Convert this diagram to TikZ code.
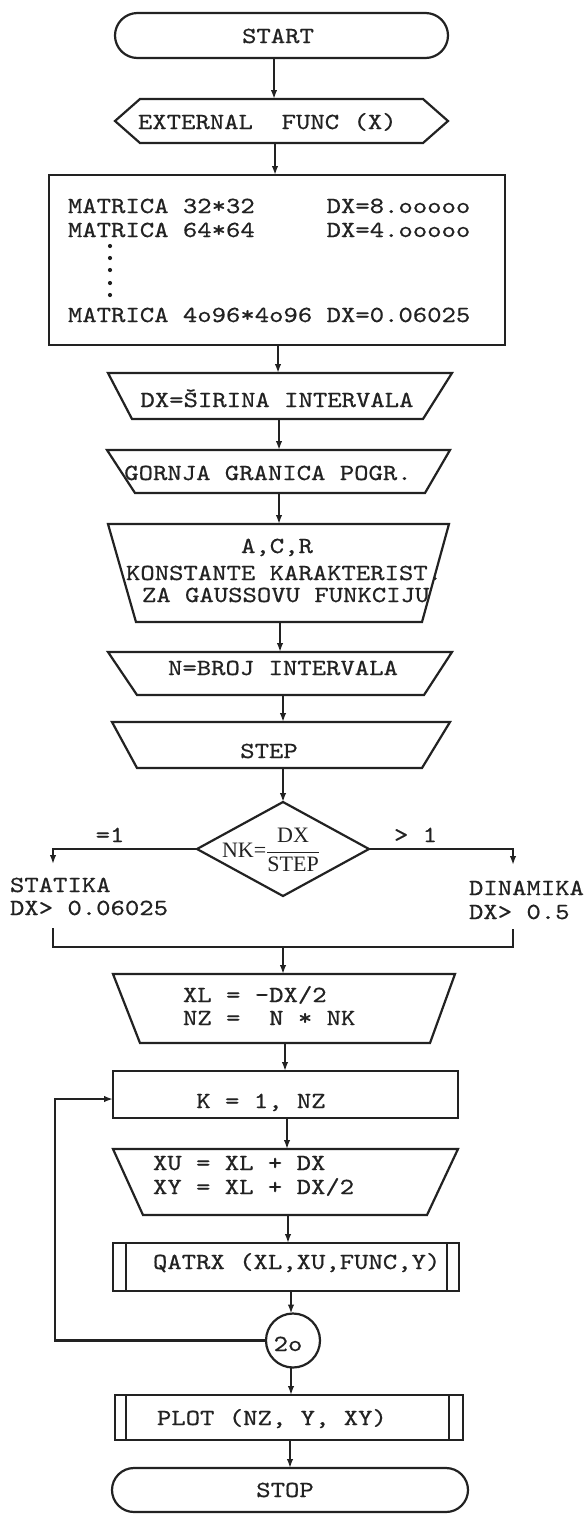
\documentclass[tikz,border=0pt]{standalone}
\usepackage{fontspec}
\setmonofont{lmmono10-regular.otf}[FakeStretch=1.19,FakeBold=0.6]
\newfontfamily\serifT{Liberation Serif}
\usetikzlibrary{shapes.misc,shapes.geometric,arrows.meta,calc}
\definecolor{ink}{HTML}{222222}
\tikzset{
  ln/.style={line width=2.2pt, draw=ink},
  arr/.style={ln, -{Latex[length=9pt,width=6.5pt]}},
  shp/.style={inner sep=0pt, outer sep=0pt, draw=none},
  txt/.style={inner sep=0pt, outer sep=0pt, font=\ttfamily\fontsize{23}{26}\selectfont, text height=14pt, text depth=0pt, text=ink},
}
\newcommand\trapz[3]{\draw[ln] (#1.north west) -- (#1.north east) -- ([xshift=-#3pt]#1.south east) -- ([xshift=#2pt]#1.south west) -- cycle;}
\newcommand\procbox[3]{\draw[ln] (#1.north west) rectangle (#1.south east);
  \draw[ln] ([xshift=#2pt]#1.north west) -- ([xshift=#2pt]#1.south west);
  \draw[ln] ([xshift=-#3pt]#1.north east) -- ([xshift=-#3pt]#1.south east);}
\begin{document}
\begin{tikzpicture}[x=1pt,y=-1pt]
\fill[white] (0,0) rectangle (588,1516);
\useasboundingbox (0,0) rectangle (588,1516);

% ---------- shapes ----------
\node[shp, rounded rectangle, ln, minimum width=333pt, minimum height=45pt] (start) at (281.5,35.5) {};
\node[txt] (tstart) at (278,36) {START};

\node[shp, minimum width=283pt, minimum height=44pt] (ext) at (281.5,121) {};
\draw[ln] (ext.north west) -- (ext.north east) -- ([xshift=25pt]ext.east) -- (ext.south east) -- (ext.south west) -- ([xshift=-25pt]ext.west) -- cycle;
\node[txt, anchor=west] (text) at (138,122) {EXTERNAL\ \ FUNC (X)};

\node[shp, ln, minimum width=456pt, minimum height=170pt] (mat) at (277,260) {};
\node[txt, anchor=west] (m1) at (68,206) {MATRICA 32*32\ \ \ \ \ DX=8.ooooo};
\node[txt, anchor=west] (m2) at (68,230) {MATRICA 64*64\ \ \ \ \ DX=4.ooooo};
\node[txt, anchor=west] (m3) at (68,315) {MATRICA 4o96*4o96 DX=0.06025};
\foreach \yy in {246,258,270,283,295} \fill[ink] (110,\yy) circle (2.1pt);

\node[shp, minimum width=344pt, minimum height=46pt] (dxs) at (280,396) {};
\trapz{dxs}{24}{29}
\node[txt] (tdxs) at (277,400) {DX=ŠIRINA INTERVALA};

\node[shp, minimum width=343pt, minimum height=43pt] (gor) at (278.5,471.5) {};
\trapz{gor}{28}{25}
\node[txt] (tgor) at (268,473) {GORNJA GRANICA POGR.};

\node[shp, minimum width=341pt, minimum height=98pt] (acr) at (278.5,573) {};
\trapz{acr}{28}{27}
\node[txt] (ta1) at (277,546) {A,C,R};
\node[txt, anchor=west] (ta2) at (126,573) {KONSTANTE KARAKTERIST.};
\node[txt, anchor=west] (ta3) at (142,595) {ZA GAUSSOVU FUNKCIJU};

\node[shp, minimum width=344pt, minimum height=43pt] (nbr) at (280,673.5) {};
\trapz{nbr}{29}{28}
\node[txt] (tnbr) at (283,668) {N=BROJ INTERVALA};

\node[shp, minimum width=338pt, minimum height=46pt] (stp) at (281,745) {};
\trapz{stp}{25}{28}
\node[txt] (tstp) at (269,751) {STEP};

\node[shp, diamond, ln, minimum width=172pt, minimum height=94pt] (dia) at (283,849) {};
\node[inner sep=0pt, text=ink] (tdia) at (271,850) {\serifT\fontsize{22}{25}\selectfont NK=$\displaystyle\frac{\mbox{DX}}{\mbox{STEP}}$};

\coordinate (lb) at (53,849);
\coordinate (la) at (53,864);
\coordinate (rb) at (513,849);
\coordinate (ra) at (513,865);
\node[txt] (teq) at (110,835) {=1};
\node[txt, anchor=west] (tgt) at (394,835) {> 1};
\node[txt, anchor=west] (tst1) at (10,885) {STATIKA};
\node[txt, anchor=west] (tst2) at (10,908) {DX> 0.06025};
\node[txt, anchor=west] (tdn1) at (469,888) {DINAMIKA};
\node[txt, anchor=west] (tdn2) at (469,912) {DX> 0.5};

\coordinate (bl1) at (53,928);
\coordinate (bl2) at (53,947);
\coordinate (br2) at (513,947);
\coordinate (br1) at (513,929);
\coordinate (jn) at (283,947);

\node[shp, minimum width=342pt, minimum height=69pt] (xl) at (284,1008.5) {};
\trapz{xl}{27}{25}
\node[txt, anchor=west] (txl1) at (183,995) {XL = -DX/2};
\node[txt, anchor=west] (txl2) at (183,1018) {NZ =\ \ N * NK};

\node[shp, ln, minimum width=345pt, minimum height=47pt] (kk) at (285.5,1094.5) {};
\node[txt] (tkk) at (261,1101) {K = 1, NZ};

\node[shp, minimum width=345pt, minimum height=66pt] (xu) at (285.5,1182) {};
\trapz{xu}{30}{31}
\node[txt, anchor=west] (txu1) at (153,1163) {XU = XL + DX};
\node[txt, anchor=west] (txu2) at (153,1187) {XY = XL + DX/2};

\node[shp, minimum width=346pt, minimum height=48pt] (qa) at (286,1267) {};
\procbox{qa}{13}{12}
\node[txt, anchor=west] (tqa) at (153,1262) {QATRX (XL,XU,FUNC,Y)};

\node[shp, circle, ln, minimum size=54pt] (c20) at (293,1340.5) {};
\node[txt] (tc20) at (288,1344) {2o};

\node[shp, minimum width=348pt, minimum height=45pt] (plot) at (289,1417.5) {};
\procbox{plot}{11}{14}
\node[txt, anchor=west] (tplot) at (157,1418) {PLOT (NZ, Y, XY)};

\node[shp, rounded rectangle, ln, minimum width=356pt, minimum height=44pt] (stop) at (290,1490) {};
\node[txt] (tstop) at (285,1490) {STOP};

% ---------- connectors ----------
\coordinate (a1) at (274,0);
\coordinate (a2) at (275,0);
\coordinate (a3) at (278,0);
\coordinate (a4) at (279,0);
\coordinate (a6) at (280,0);
\coordinate (a7) at (283,0);
\coordinate (a11) at (285,0);
\coordinate (a12) at (287,0);
\coordinate (a13) at (288,0);
\coordinate (a14) at (291,0);
\coordinate (a16) at (290,0);
\coordinate (lp) at (55,0);

\draw[arr] (start.south -| a1) -- (ext.north -| a1);
\draw[arr] (ext.south -| a2) -- (mat.north -| a2);
\draw[arr] (mat.south -| a3) -- (dxs.north -| a3);
\draw[arr] (dxs.south -| a4) -- (gor.north -| a4);
\draw[arr] (gor.south -| a4) -- (acr.north -| a4);
\draw[arr] (acr.south -| a6) -- (nbr.north -| a6);
\draw[arr] (nbr.south -| a7) -- (stp.north -| a7);
\draw[arr] (stp.south -| a7) -- (dia.north);
\draw[arr] (dia.west) -- (lb) -- (la);
\draw[arr] (dia.east) -- (rb) -- (ra);
\draw[ln] (bl1) -- (bl2) -- (br2) -- (br1);
\draw[arr] (jn) -- (xl.north -| jn);
\draw[arr] (xl.south -| a11) -- (kk.north -| a11);
\draw[arr] (kk.south -| a12) -- (xu.north -| a12);
\draw[arr] (xu.south -| a13) -- (qa.north -| a13);
\draw[arr] (qa.south -| a14) -- (c20.north -| a14);
\draw[arr] (c20.south -| a14) -- (plot.north -| a14);
\draw[arr] (plot.south -| a16) -- (stop.north -| a16);
\draw[arr] (c20.west) -- (c20.west -| lp) |- ([yshift=-4.5pt]kk.west);
\end{tikzpicture}
\end{document}
